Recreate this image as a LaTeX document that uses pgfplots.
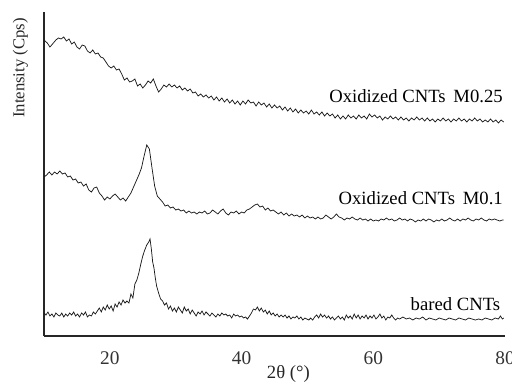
\documentclass[border=0pt]{standalone}
\usepackage{fontspec}
\setmainfont{Liberation Serif}
\usepackage{pgfplots}
\pgfplotsset{compat=1.18}
\usetikzlibrary{calc}
\begin{document}
\begin{tikzpicture}
\begin{axis}[
  scale only axis,
  width=345.75pt, height=243pt,
  xmin=10, xmax=80, ymin=0, ymax=324,
  axis x line=bottom, axis y line=left,
  axis line style={-, line width=0.8pt, black!85},
  xtick={20,40,60,80}, ytick=\empty,
  major tick length=0pt,
  /pgf/number format/assume math mode=true,
  xticklabel style={font=\fontsize{14.5}{16}\selectfont, yshift=-8pt, text=black!80},
  clip=false,
]
\addplot[black!90, line width=0.55pt] coordinates {
(10.0,296)(10.5,293)(10.9,289)(11.3,292)(11.8,296)(12.2,298)(12.6,297)(13.0,299)(13.4,295)(13.8,297)(14.2,292)(14.6,294)(15.0,289)(15.4,287)(15.8,291)(16.2,290)(16.6,285)(17.0,283)(17.4,286)(17.8,282)(18.2,283)(18.6,279)(19.0,278)(19.4,274)(19.8,270)(20.2,268)(20.6,270)(21.0,266)(21.4,267)(21.8,262)(22.2,256)(22.6,258)(23.0,254)(23.4,255)(23.8,257)(24.2,250)(24.6,252)(25.0,248)(25.4,251)(25.8,255)(26.2,253)(26.6,257)(27.0,250)(27.4,244)(27.8,247)(28.2,251)(28.6,249)(29.0,252)(29.4,249)(29.8,251)(30.2,248)(30.6,250)(31.0,246)(31.4,248)(31.8,245)(32.2,247)(32.6,243)(33.0,244)(33.4,240)(33.8,242)(34.2,239)(34.6,241)(35.0,238)(35.4,240)(35.8,236)(36.2,239)(36.6,235)(37.0,238)(37.4,234)(37.8,237)(38.2,233)(38.6,236)(39.0,232)(39.4,235)(39.8,231)(40.2,235)(40.6,232)(41.0,236)(41.4,233)(41.8,234)(42.2,230)(42.6,234)(43.0,231)(43.4,233)(43.8,229)(44.2,232)(44.6,228)(45.0,231)(45.4,228)(45.8,230)(46.2,226)(46.6,229)(47.0,225)(47.4,228)(47.8,224)(48.2,227)(48.6,223)(49.0,226)(49.4,223)(49.8,225)(50.2,222)(50.6,226)(51.0,222)(51.4,224)(51.8,221)(52.2,224)(52.6,220)(53.0,223)(53.4,220)(53.8,222)(54.2,218)(54.6,221)(55.0,217)(55.4,220)(55.8,217)(56.2,221)(56.6,218)(57.0,220)(57.4,217)(57.8,221)(58.2,218)(58.6,220)(59.0,217)(59.4,222)(59.8,219)(60.2,221)(60.6,218)(61.0,220)(61.4,216)(61.8,219)(62.2,217)(62.6,220)(63.0,217)(63.4,219)(63.8,216)(64.2,219)(64.6,216)(65.0,218)(65.4,215)(65.8,218)(66.2,216)(66.6,219)(67.0,216)(67.4,218)(67.8,215)(68.2,218)(68.6,215)(69.0,217)(69.4,214)(69.8,217)(70.2,215)(70.6,218)(71.0,215)(71.4,217)(71.8,214)(72.2,217)(72.6,215)(73.0,218)(73.4,215)(73.8,217)(74.2,214)(74.6,217)(75.0,215)(75.4,218)(75.8,215)(76.2,217)(76.6,214)(77.0,216)(77.4,214)(77.8,217)(78.2,214)(78.6,216)(79.0,213)(79.4,216)(79.8,214)
};
\addplot[black!90, line width=0.55pt] coordinates {
(10.0,159)(10.4,161)(10.8,164)(11.2,161)(11.6,164)(12.0,162)(12.4,165)(12.8,162)(13.2,163)(13.6,159)(14.0,160)(14.4,156)(14.8,157)(15.2,153)(15.6,154)(16.0,150)(16.4,152)(16.8,146)(17.2,144)(17.6,148)(18.0,149)(18.4,143)(18.8,140)(19.2,136)(19.6,139)(20.0,137)(20.4,140)(20.8,142)(21.2,139)(21.6,136)(22.0,138)(22.4,135)(22.8,139)(23.2,143)(23.6,149)(24.0,155)(24.4,161)(24.8,168)(25.2,180)(25.6,191)(26.0,187)(26.4,168)(26.8,150)(27.2,140)(27.6,137)(28.0,134)(28.4,130)(28.8,131)(29.2,128)(29.6,129)(30.0,126)(30.4,127)(30.8,125)(31.2,126)(31.6,123)(32.0,125)(32.4,123)(32.8,124)(33.2,122)(33.6,124)(34.0,123)(34.4,125)(34.8,122)(35.2,123)(35.6,126)(36.0,124)(36.4,122)(36.8,125)(37.2,127)(37.6,123)(38.0,121)(38.4,124)(38.8,123)(39.2,125)(39.6,122)(40.0,124)(40.4,123)(40.8,126)(41.2,127)(41.6,129)(42.0,131)(42.4,132)(42.8,129)(43.2,130)(43.6,126)(44.0,128)(44.4,125)(44.8,126)(45.2,124)(45.6,122)(46.0,124)(46.4,121)(46.8,123)(47.2,120)(47.6,122)(48.0,120)(48.4,121)(48.8,119)(49.2,121)(49.6,118)(50.0,120)(50.4,118)(50.8,119)(51.2,117)(51.6,119)(52.0,117)(52.4,118)(52.8,121)(53.2,119)(53.6,117)(54.0,119)(54.4,122)(54.8,119)(55.2,118)(55.6,116)(56.0,118)(56.4,117)(56.8,119)(57.2,117)(57.6,116)(58.0,118)(58.4,116)(58.8,117)(59.2,115)(59.6,117)(60.0,115)(60.4,116)(60.8,115)(61.2,117)(61.6,116)(62.0,118)(62.4,116)(62.8,117)(63.2,115)(63.6,116)(64.0,118)(64.4,116)(64.8,117)(65.2,115)(65.6,117)(66.0,116)(66.4,114)(66.8,116)(67.2,115)(67.6,117)(68.0,115)(68.4,117)(68.8,116)(69.2,114)(69.6,116)(70.0,115)(70.4,117)(70.8,115)(71.2,116)(71.6,118)(72.0,116)(72.4,115)(72.8,117)(73.2,115)(73.6,117)(74.0,116)(74.4,118)(74.8,116)(75.2,115)(75.6,117)(76.0,116)(76.4,118)(76.8,116)(77.2,115)(77.6,117)(78.0,116)(78.4,117)(78.8,116)(79.2,115)(79.6,116)(79.8,116)
};
\addplot[black!90, line width=0.55pt] coordinates {
(10.0,23)(10.3,21)(10.6,24)(10.9,20)(11.2,22)(11.5,19)(11.8,23)(12.1,21)(12.4,20)(12.7,23)(13.0,19)(13.3,22)(13.6,20)(13.9,23)(14.2,21)(14.5,24)(14.8,20)(15.1,22)(15.4,19)(15.7,23)(16.0,21)(16.3,24)(16.6,19)(16.9,21)(17.2,20)(17.5,24)(17.8,22)(18.1,25)(18.4,28)(18.7,24)(19.0,29)(19.3,26)(19.6,31)(19.9,27)(20.2,30)(20.5,25)(20.8,32)(21.1,29)(21.4,34)(21.7,31)(22.0,36)(22.3,33)(22.6,35)(22.9,33)(23.2,42)(23.5,38)(23.8,52)(24.1,56)(24.4,63)(24.7,72)(25.0,80)(25.3,86)(25.6,91)(25.9,94)(26.1,97)(26.3,87)(26.5,74)(26.7,68)(26.9,58)(27.1,50)(27.4,43)(27.7,37)(28.0,35)(28.3,31)(28.6,33)(28.9,27)(29.2,30)(29.5,25)(29.8,28)(30.1,24)(30.4,29)(30.7,26)(31.0,23)(31.3,29)(31.6,25)(31.9,27)(32.2,22)(32.5,26)(32.8,23)(33.1,20)(33.4,24)(33.7,22)(34.0,25)(34.3,21)(34.6,24)(34.9,22)(35.2,20)(35.5,23)(35.8,21)(36.1,19)(36.4,22)(36.7,20)(37.0,23)(37.3,21)(37.6,22)(37.9,20)(38.2,21)(38.5,18)(38.8,22)(39.1,20)(39.4,21)(39.7,19)(40.0,20)(40.3,18)(40.6,19)(40.9,17)(41.2,20)(41.5,23)(41.8,27)(42.1,26)(42.4,29)(42.7,25)(43.0,28)(43.3,24)(43.6,26)(43.9,22)(44.2,25)(44.5,21)(44.8,23)(45.1,20)(45.4,22)(45.7,19)(46.0,21)(46.3,19)(46.6,21)(46.9,18)(47.2,20)(47.5,17)(47.8,19)(48.1,18)(48.4,20)(48.7,17)(49.0,19)(49.3,16)(49.6,18)(49.9,17)(50.2,16)(50.5,18)(50.8,16)(51.1,19)(51.4,21)(51.7,18)(52.0,22)(52.3,19)(52.6,21)(52.9,18)(53.2,20)(53.5,17)(53.8,19)(54.1,16)(54.4,18)(54.7,20)(55.0,17)(55.3,19)(55.6,16)(55.9,21)(56.2,18)(56.5,20)(56.8,17)(57.1,22)(57.4,18)(57.7,21)(58.0,17)(58.3,20)(58.6,18)(58.9,21)(59.2,17)(59.5,20)(59.8,18)(60.1,21)(60.4,17)(60.7,19)(61.0,22)(61.3,18)(61.6,20)(61.9,16)(62.2,19)(62.5,18)(62.8,21)(63.1,18)(63.4,16)(63.7,18)(64.0,17)(64.5,19)(65.0,17)(65.5,18)(66.0,16)(66.5,18)(67.0,17)(67.5,19)(68.0,16)(68.5,18)(69.0,17)(69.5,16)(70.0,18)(70.5,17)(71.0,16)(71.5,18)(72.0,17)(72.5,16)(73.0,18)(73.5,17)(74.0,16)(74.5,18)(75.0,17)(75.5,16)(76.0,17)(76.5,16)(77.0,18)(77.5,17)(78.0,16)(78.5,18)(79.0,17)(79.3,20)(79.6,17)(79.8,18)
};
\node[anchor=base east, font=\fontsize{14}{16}\selectfont, inner sep=0pt] at (axis cs:79.7,233) {Oxidized CNTs\, M0.25};
\node[anchor=base east, font=\fontsize{14}{16}\selectfont, inner sep=0pt] at (axis cs:79.7,132) {Oxidized CNTs\, M0.1};
\node[anchor=base east, font=\fontsize{14}{16}\selectfont, inner sep=0pt] at (axis cs:79.3,26) {bared CNTs};
\node[rotate=90, font=\fontsize{12.5}{14}\selectfont, inner sep=0pt, text=black!85] at (axis cs:6.4,268) {Intensity (Cps)};
\node[anchor=base, font=\fontsize{14}{16}\selectfont, inner sep=0pt, text=black!85] at (axis cs:47.1,-42) {2θ (°)};
\end{axis}
\pgfresetboundingbox
\path[use as bounding box] ($(current axis.south west)+(-33pt,-36.75pt)$) rectangle ($(current axis.north east)+(5.25pt,9pt)$);
\end{tikzpicture}
\end{document}
